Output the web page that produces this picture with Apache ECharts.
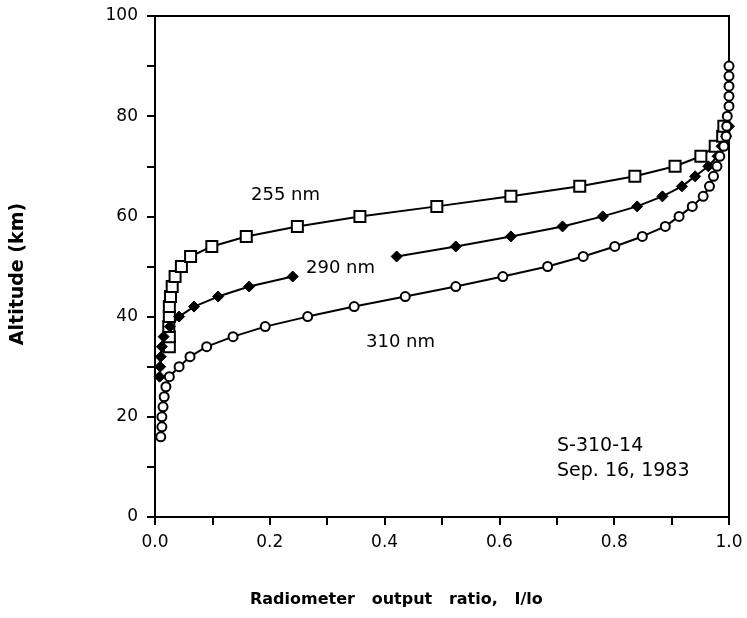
<!DOCTYPE html>
<html>
<head>
<meta charset="utf-8">
<script src="https://cdn.jsdelivr.net/npm/echarts@6/dist/echarts.min.js"></script>
<style>
  html, body { margin: 0; padding: 0; background: #fff; }
  #chart { width: 747px; height: 618px; }
</style>
</head>
<body>
<div id="chart"></div>
<script>
// 255 nm (open squares)
const alt255 = [34, 36, 38, 40, 42, 44, 46, 48, 50, 52, 54, 56, 58, 60, 62, 64, 66, 68, 70, 72, 74, 76, 78];
const ratio255 = [0.025, 0.025, 0.024, 0.025, 0.025, 0.027, 0.030, 0.035, 0.046, 0.062, 0.099, 0.159, 0.248, 0.357, 0.491, 0.620, 0.740, 0.836, 0.906, 0.951, 0.976, 0.989, 0.991];

// 290 nm (filled), null = gap where the label sits
const alt290 = [28, 30, 32, 34, 36, 38, 40, 42, 44, 46, 48, 50, 52, 54, 56, 58, 60, 62, 64, 66, 68, 70, 72, 74, 76, 78];
const ratio290 = [0.008, 0.009, 0.010, 0.012, 0.015, 0.026, 0.042, 0.068, 0.110, 0.164, 0.240, null, 0.421, 0.524, 0.620, 0.710, 0.780, 0.840, 0.884, 0.918, 0.941, 0.964, 0.980, 0.987, 0.995, 1.0];

// 310 nm (open circles)
const alt310 = [16, 18, 20, 22, 24, 26, 28, 30, 32, 34, 36, 38, 40, 42, 44, 46, 48, 50, 52, 54, 56, 58, 60, 62, 64, 66, 68, 70, 72, 74, 76, 78, 80, 82, 84, 86, 88, 90];
const ratio310 = [0.010, 0.012, 0.012, 0.014, 0.016, 0.019, 0.025, 0.042, 0.061, 0.090, 0.136, 0.192, 0.266, 0.347, 0.436, 0.524, 0.606, 0.684, 0.746, 0.801, 0.849, 0.889, 0.913, 0.936, 0.955, 0.966, 0.973, 0.979, 0.984, 0.991, 0.995, 0.996, 0.997, 1.0, 1.0, 1.0, 1.0, 1.0];

const FONT = "DejaVu Sans";

function pairs(ratio, alt) {
  return ratio.map((r, i) => (r === null ? ["-", alt[i]] : [r, alt[i]]));
}

const chart = echarts.init(document.getElementById("chart"));

const lineBase = {
  type: "line",
  lineStyle: { color: "#000", width: 2 },
  connectNulls: false,
  animation: false,
  z: 3,
};

chart.setOption({
  animation: false,
  backgroundColor: "#fff",
  grid: {
    left: 155,
    right: 18,
    top: 16,
    bottom: 101,
    show: true,
    borderColor: "#000",
    borderWidth: 2,
    backgroundColor: "transparent",
  },
  xAxis: {
    type: "value",
    min: 0,
    max: 1,
    interval: 0.1,
    axisLine: { lineStyle: { color: "#000", width: 2 } },
    axisTick: { inside: false, length: 8, lineStyle: { color: "#000", width: 2 } },
    splitLine: { show: false },
    axisLabel: {
      color: "#000",
      fontFamily: FONT,
      fontSize: 17,
      margin: 17,
      formatter: (v) => (Math.round(v * 10) % 2 === 0 ? v.toFixed(1) : ""),
    },
  },
  yAxis: {
    type: "value",
    min: 0,
    max: 100,
    interval: 10,
    axisLine: { lineStyle: { color: "#000", width: 2 } },
    axisTick: { inside: false, length: 8, lineStyle: { color: "#000", width: 2 } },
    splitLine: { show: false },
    axisLabel: {
      color: "#000",
      fontFamily: FONT,
      fontSize: 17,
      margin: 17,
      formatter: (v) => (v % 20 === 0 ? String(v) : ""),
    },
  },
  series: [
    Object.assign({}, lineBase, {
      name: "255 nm",
      data: pairs(ratio255, alt255),
      symbol: "rect",
      symbolSize: 11,
      itemStyle: { color: "#fff", borderColor: "#000", borderWidth: 2 },
    }),
    Object.assign({}, lineBase, {
      name: "290 nm",
      data: pairs(ratio290, alt290),
      symbol: "diamond",
      symbolSize: 11,
      itemStyle: { color: "#000", borderColor: "#000", borderWidth: 1 },
    }),
    Object.assign({}, lineBase, {
      name: "310 nm",
      data: pairs(ratio310, alt310),
      symbol: "circle",
      symbolSize: 9,
      itemStyle: { color: "#fff", borderColor: "#000", borderWidth: 2 },
    }),
  ],
  graphic: [
    { type: "text", left: 251, top: 186, style: { text: "255 nm", font: "18px " + FONT, fill: "#000" } },
    { type: "text", left: 306, top: 259, style: { text: "290 nm", font: "18px " + FONT, fill: "#000" } },
    { type: "text", left: 366, top: 333, style: { text: "310 nm", font: "18px " + FONT, fill: "#000" } },
    { type: "text", left: 557, top: 437, style: { text: "S-310-14", font: "19px " + FONT, fill: "#000" } },
    { type: "text", left: 557, top: 462, style: { text: "Sep. 16, 1983", font: "19px " + FONT, fill: "#000" } },
    {
      type: "text",
      left: 250,
      top: 592,
      style: { text: "Radiometer   output   ratio,   I/lo", font: "bold 16px " + FONT, fill: "#000" },
    },
    {
      type: "text",
      x: 18,
      y: 274,
      rotation: Math.PI / 2,
      style: { text: "Altitude (km)", font: "bold 19px " + FONT, fill: "#000", align: "center", verticalAlign: "middle" },
    },
  ],
});
</script>
</body>
</html>
